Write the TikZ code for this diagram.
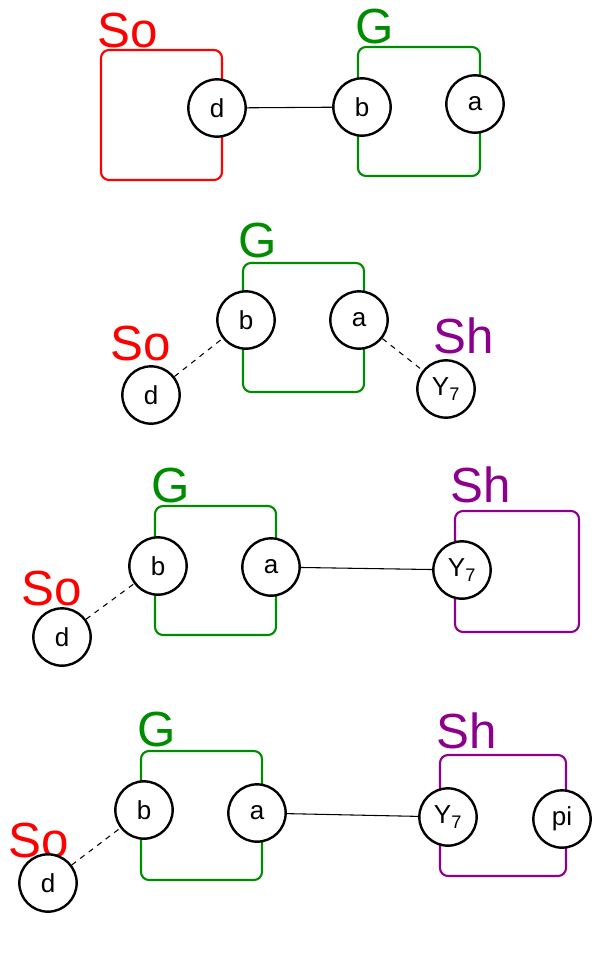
\documentclass[tikz,border=0pt]{standalone}
\usepackage{fontspec}
\setmainfont{Liberation Sans}
\definecolor{soRed}{RGB}{255,0,0}
\definecolor{gGreen}{RGB}{0,140,0}
\definecolor{shPurple}{RGB}{140,0,140}
\begin{document}
\begin{tikzpicture}[x=0.75pt,y=-0.75pt,
  port/.style={draw,circle,fill=white,line width=1.8pt,minimum size=43pt,inner sep=0pt,font=\fontsize{19.5}{21}\selectfont},
  grp/.style={line width=1.6pt,rounded corners=6pt},
  tag/.style={anchor=base west,inner sep=0pt,font=\fontsize{37}{40}\selectfont},
  link/.style={line width=0.8pt},
  dlink/.style={line width=0.8pt,dash pattern=on 4pt off 4pt}]
  \useasboundingbox (0,0) rectangle (593,961);
  \draw[grp,soRed] (101,50) rectangle (222,180);
  \draw[grp,gGreen] (358,47) rectangle (480,176);
  \node[tag,soRed] (so1) at (97,47) {So};
  \node[tag,gGreen] (g1) at (355,43) {G};
  \node[port] (d1) at (217,108) {d};
  \node[port] (b1) at (362,107) {b};
  \node[port] (a1) at (475,104) {a};
  \draw[link] (d1) -- (b1);

  \draw[grp,gGreen] (243,263) rectangle (364,392);
  \node[tag,gGreen] (g2) at (238,257) {G};
  \node[tag,soRed] (so2) at (110,360) {So};
  \node[tag,shPurple] (sh2) at (433,353) {Sh};
  \node[port] (b2) at (246,320) {b};
  \node[port] (a2) at (359,320) {a};
  \node[port] (d2) at (151,395) {d};
  \node[port] (y2) at (446,389) {Y\textsubscript{7}};
  \draw[dlink] (d2) -- (b2);
  \draw[dlink] (a2) -- (y2);

  \draw[grp,gGreen] (155,506) rectangle (276,635);
  \draw[grp,shPurple] (455,511) rectangle (579,632);
  \node[tag,gGreen] (g3) at (151,502) {G};
  \node[tag,shPurple] (sh3) at (450,502) {Sh};
  \node[tag,soRed] (so3) at (21,605) {So};
  \node[port] (b3) at (158,566) {b};
  \node[port] (a3) at (271,567) {a};
  \node[port] (d3) at (62,637) {d};
  \node[port] (y3) at (462,570) {Y\textsubscript{7}};
  \draw[dlink] (d3) -- (b3);
  \draw[link] (a3) -- (y3);

  \draw[grp,gGreen] (141,751) rectangle (262,880);
  \draw[grp,shPurple] (440,755) rectangle (566,876);
  \node[tag,gGreen] (g4) at (137,746) {G};
  \node[tag,shPurple] (sh4) at (436,748) {Sh};
  \node[tag,soRed] (so4) at (8,857) {So};
  \node[port] (b4) at (144,810) {b};
  \node[port] (a4) at (257,813) {a};
  \node[port] (d4) at (48,883) {d};
  \node[port] (y4) at (448,817) {Y\textsubscript{7}};
  \node[port] (pi4) at (562,819) {pi};
  \draw[dlink] (d4) -- (b4);
  \draw[link] (a4) -- (y4);
\end{tikzpicture}
\end{document}
